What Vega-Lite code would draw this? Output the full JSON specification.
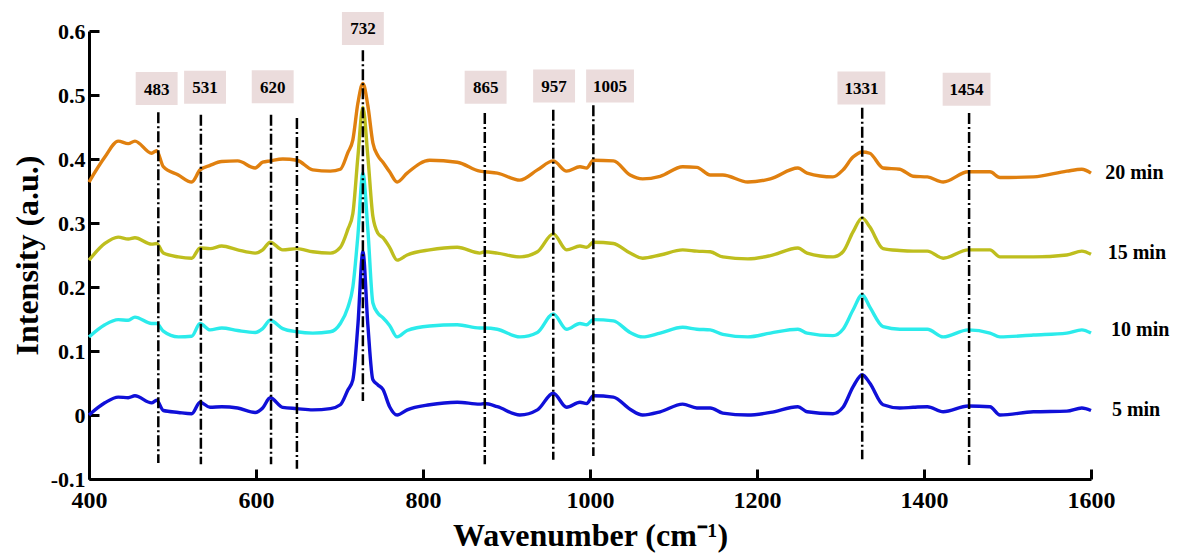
{
  "$schema": "https://vega.github.io/schema/vega-lite/v6.json",
  "autosize": {"type": "none"},
  "padding": {"left": 89, "top": 31, "right": 89, "bottom": 77},
  "width": 1002,
  "height": 448,
  "background": "white",
  "config": {
    "view": {"stroke": null},
    "font": "Liberation Serif",
    "axis": {"labelFont": "Liberation Serif", "titleFont": "Liberation Serif", "labelFontWeight": "bold", "titleFontWeight": "bold", "labelColor": "black", "titleColor": "black", "domainColor": "black", "tickColor": "black", "grid": false}
  },
  "datasets": {
    "spec": [
      {"w": 400, "20 min": 0.364, "15 min": 0.242, "10 min": 0.122, "5 min": 0.0},
      {"w": 419, "20 min": 0.403, "15 min": 0.268, "10 min": 0.141, "5 min": 0.019},
      {"w": 435, "20 min": 0.428, "15 min": 0.278, "10 min": 0.149, "5 min": 0.028},
      {"w": 447, "20 min": 0.424, "15 min": 0.275, "10 min": 0.148, "5 min": 0.027},
      {"w": 455, "20 min": 0.428, "15 min": 0.277, "10 min": 0.153, "5 min": 0.030},
      {"w": 475, "20 min": 0.409, "15 min": 0.267, "10 min": 0.143, "5 min": 0.019},
      {"w": 481, "20 min": 0.413, "15 min": 0.268, "10 min": 0.143, "5 min": 0.023},
      {"w": 489, "20 min": 0.388, "15 min": 0.253, "10 min": 0.131, "5 min": 0.007},
      {"w": 507, "20 min": 0.375, "15 min": 0.247, "10 min": 0.122, "5 min": 0.004},
      {"w": 523, "20 min": 0.364, "15 min": 0.245, "10 min": 0.123, "5 min": 0.002},
      {"w": 533, "20 min": 0.383, "15 min": 0.261, "10 min": 0.143, "5 min": 0.020},
      {"w": 545, "20 min": 0.390, "15 min": 0.260, "10 min": 0.133, "5 min": 0.012},
      {"w": 559, "20 min": 0.396, "15 min": 0.264, "10 min": 0.136, "5 min": 0.013},
      {"w": 578, "20 min": 0.397, "15 min": 0.258, "10 min": 0.132, "5 min": 0.011},
      {"w": 599, "20 min": 0.386, "15 min": 0.253, "10 min": 0.129, "5 min": 0.004},
      {"w": 608, "20 min": 0.395, "15 min": 0.258, "10 min": 0.135, "5 min": 0.011},
      {"w": 617, "20 min": 0.397, "15 min": 0.270, "10 min": 0.148, "5 min": 0.027},
      {"w": 632, "20 min": 0.400, "15 min": 0.258, "10 min": 0.135, "5 min": 0.012},
      {"w": 649, "20 min": 0.398, "15 min": 0.260, "10 min": 0.130, "5 min": 0.010},
      {"w": 668, "20 min": 0.383, "15 min": 0.255, "10 min": 0.128, "5 min": 0.008},
      {"w": 689, "20 min": 0.381, "15 min": 0.253, "10 min": 0.130, "5 min": 0.010},
      {"w": 701, "20 min": 0.384, "15 min": 0.262, "10 min": 0.143, "5 min": 0.016},
      {"w": 710, "20 min": 0.410, "15 min": 0.290, "10 min": 0.168, "5 min": 0.039},
      {"w": 716, "20 min": 0.430, "15 min": 0.315, "10 min": 0.200, "5 min": 0.055},
      {"w": 722, "20 min": 0.487, "15 min": 0.403, "10 min": 0.280, "5 min": 0.140},
      {"w": 728, "20 min": 0.518, "15 min": 0.481, "10 min": 0.378, "5 min": 0.255},
      {"w": 734, "20 min": 0.483, "15 min": 0.403, "10 min": 0.289, "5 min": 0.140},
      {"w": 740, "20 min": 0.425, "15 min": 0.310, "10 min": 0.175, "5 min": 0.055},
      {"w": 746, "20 min": 0.405, "15 min": 0.284, "10 min": 0.159, "5 min": 0.047},
      {"w": 752, "20 min": 0.395, "15 min": 0.277, "10 min": 0.152, "5 min": 0.040},
      {"w": 760, "20 min": 0.380, "15 min": 0.262, "10 min": 0.140, "5 min": 0.013},
      {"w": 769, "20 min": 0.364, "15 min": 0.242, "10 min": 0.122, "5 min": 0.000},
      {"w": 781, "20 min": 0.378, "15 min": 0.250, "10 min": 0.132, "5 min": 0.008},
      {"w": 808, "20 min": 0.398, "15 min": 0.258, "10 min": 0.139, "5 min": 0.016},
      {"w": 841, "20 min": 0.395, "15 min": 0.262, "10 min": 0.141, "5 min": 0.020},
      {"w": 868, "20 min": 0.381, "15 min": 0.253, "10 min": 0.136, "5 min": 0.017},
      {"w": 874, "20 min": 0.380, "15 min": 0.255, "10 min": 0.136, "5 min": 0.018},
      {"w": 889, "20 min": 0.378, "15 min": 0.253, "10 min": 0.134, "5 min": 0.013},
      {"w": 916, "20 min": 0.367, "15 min": 0.247, "10 min": 0.122, "5 min": 0.000},
      {"w": 937, "20 min": 0.383, "15 min": 0.255, "10 min": 0.129, "5 min": 0.008},
      {"w": 956, "20 min": 0.397, "15 min": 0.283, "10 min": 0.158, "5 min": 0.034},
      {"w": 972, "20 min": 0.381, "15 min": 0.258, "10 min": 0.134, "5 min": 0.012},
      {"w": 988, "20 min": 0.388, "15 min": 0.264, "10 min": 0.143, "5 min": 0.020},
      {"w": 996, "20 min": 0.386, "15 min": 0.262, "10 min": 0.141, "5 min": 0.018},
      {"w": 1004, "20 min": 0.398, "15 min": 0.270, "10 min": 0.149, "5 min": 0.030},
      {"w": 1028, "20 min": 0.397, "15 min": 0.268, "10 min": 0.147, "5 min": 0.028},
      {"w": 1048, "20 min": 0.375, "15 min": 0.253, "10 min": 0.129, "5 min": 0.009},
      {"w": 1063, "20 min": 0.369, "15 min": 0.245, "10 min": 0.122, "5 min": 0.000},
      {"w": 1084, "20 min": 0.373, "15 min": 0.250, "10 min": 0.128, "5 min": 0.005},
      {"w": 1111, "20 min": 0.388, "15 min": 0.258, "10 min": 0.137, "5 min": 0.017},
      {"w": 1128, "20 min": 0.387, "15 min": 0.256, "10 min": 0.134, "5 min": 0.011},
      {"w": 1144, "20 min": 0.375, "15 min": 0.255, "10 min": 0.133, "5 min": 0.011},
      {"w": 1159, "20 min": 0.375, "15 min": 0.247, "10 min": 0.126, "5 min": 0.003},
      {"w": 1189, "20 min": 0.364, "15 min": 0.244, "10 min": 0.122, "5 min": 0.000},
      {"w": 1216, "20 min": 0.369, "15 min": 0.249, "10 min": 0.128, "5 min": 0.004},
      {"w": 1249, "20 min": 0.386, "15 min": 0.261, "10 min": 0.134, "5 min": 0.013},
      {"w": 1260, "20 min": 0.378, "15 min": 0.253, "10 min": 0.128, "5 min": 0.005},
      {"w": 1291, "20 min": 0.372, "15 min": 0.247, "10 min": 0.124, "5 min": 0.002},
      {"w": 1303, "20 min": 0.383, "15 min": 0.255, "10 min": 0.134, "5 min": 0.012},
      {"w": 1315, "20 min": 0.403, "15 min": 0.286, "10 min": 0.164, "5 min": 0.044},
      {"w": 1326, "20 min": 0.411, "15 min": 0.308, "10 min": 0.188, "5 min": 0.063},
      {"w": 1335, "20 min": 0.409, "15 min": 0.294, "10 min": 0.169, "5 min": 0.050},
      {"w": 1351, "20 min": 0.386, "15 min": 0.260, "10 min": 0.138, "5 min": 0.016},
      {"w": 1371, "20 min": 0.384, "15 min": 0.257, "10 min": 0.134, "5 min": 0.011},
      {"w": 1387, "20 min": 0.373, "15 min": 0.256, "10 min": 0.134, "5 min": 0.012},
      {"w": 1404, "20 min": 0.372, "15 min": 0.256, "10 min": 0.134, "5 min": 0.013},
      {"w": 1423, "20 min": 0.364, "15 min": 0.245, "10 min": 0.122, "5 min": 0.005},
      {"w": 1453, "20 min": 0.380, "15 min": 0.258, "10 min": 0.133, "5 min": 0.014},
      {"w": 1479, "20 min": 0.380, "15 min": 0.258, "10 min": 0.128, "5 min": 0.013},
      {"w": 1491, "20 min": 0.371, "15 min": 0.247, "10 min": 0.122, "5 min": 0.000},
      {"w": 1531, "20 min": 0.372, "15 min": 0.247, "10 min": 0.125, "5 min": 0.005},
      {"w": 1571, "20 min": 0.381, "15 min": 0.250, "10 min": 0.128, "5 min": 0.006},
      {"w": 1589, "20 min": 0.384, "15 min": 0.256, "10 min": 0.133, "5 min": 0.011},
      {"w": 1600, "20 min": 0.378, "15 min": 0.251, "10 min": 0.128, "5 min": 0.007}
    ],
    "rules": [
      {"p": 483, "t": 0.473, "b": -0.075},
      {"p": 534, "t": 0.469, "b": -0.077},
      {"p": 618, "t": 0.469, "b": -0.077},
      {"p": 649, "t": 0.464, "b": -0.084},
      {"p": 728, "t": 0.570, "b": 0.022},
      {"p": 874, "t": 0.472, "b": -0.077},
      {"p": 956, "t": 0.477, "b": -0.070},
      {"p": 1004, "t": 0.484, "b": -0.064},
      {"p": 1326, "t": 0.480, "b": -0.069},
      {"p": 1454, "t": 0.472, "b": -0.078}
    ],
    "peaks": [
      {"lab": "483", "lx": 481, "ly": 0.510},
      {"lab": "531", "lx": 539, "ly": 0.512},
      {"lab": "620", "lx": 620, "ly": 0.513},
      {"lab": "732", "lx": 728, "ly": 0.604},
      {"lab": "865", "lx": 875, "ly": 0.512},
      {"lab": "957", "lx": 957, "ly": 0.514},
      {"lab": "1005", "lx": 1024, "ly": 0.514},
      {"lab": "1331", "lx": 1325, "ly": 0.511},
      {"lab": "1454", "lx": 1451, "ly": 0.509}
    ],
    "series": [
      {"lab": "20 min", "lx": 1617, "ly": 0.378},
      {"lab": "15 min", "lx": 1620, "ly": 0.253},
      {"lab": "10 min", "lx": 1624, "ly": 0.133},
      {"lab": "5 min", "lx": 1625, "ly": 0.008}
    ]
  },
  "layer": [
    {
      "data": {"name": "spec"},
      "transform": [{"fold": ["20 min", "15 min", "10 min", "5 min"], "as": ["series", "v"]}],
      "mark": {"type": "line", "strokeWidth": 3.4, "interpolate": "monotone", "clip": false},
      "encoding": {
        "x": {"field": "w", "type": "quantitative", "scale": {"domain": [400, 1600], "nice": false, "zero": false},
          "axis": {"values": [400, 600, 800, 1000, 1200, 1400, 1600], "format": "d", "title": "Wavenumber (cm⁻¹)", "labelFontSize": 24, "titleFontSize": 32, "domainWidth": 3, "tickWidth": 3, "tickSize": -10, "labelPadding": 19, "titlePadding": 8, "labelFlush": false}},
        "y": {"field": "v", "type": "quantitative", "scale": {"domain": [-0.1, 0.6], "nice": false, "zero": false},
          "axis": {"values": [-0.1, 0, 0.1, 0.2, 0.3, 0.4, 0.5, 0.6], "format": ".1~f", "labelExpr": "replace(datum.label, '−', '-')", "title": "Intensity (a.u.)", "labelFontSize": 22, "titleFontSize": 32, "domainWidth": 3, "tickWidth": 3, "tickSize": -10, "labelPadding": 14, "titlePadding": 6, "labelFlush": false}},
        "color": {"field": "series", "type": "nominal", "scale": {"domain": ["20 min", "15 min", "10 min", "5 min"], "range": ["#E0800F", "#BEBE1E", "#2BEBEB", "#1010D8"]}, "legend": null}
      }
    },
    {
      "data": {"name": "rules"},
      "mark": {"type": "rule", "strokeWidth": 2.5, "color": "black", "strokeDash": [11, 3, 2, 3], "clip": false},
      "encoding": {
        "x": {"field": "p", "type": "quantitative", "scale": {"domain": [400, 1600]}},
        "y": {"field": "t", "type": "quantitative", "scale": {"domain": [-0.1, 0.6]}},
        "y2": {"field": "b"}
      }
    },
    {
      "data": {"name": "peaks"},
      "transform": [{"filter": "length(datum.lab) == 3"}],
      "mark": {"type": "point", "shape": "M-1.27,-1H1.27V1H-1.27Z", "filled": true, "color": "#EBDCDC", "opacity": 1, "size": 1089, "clip": false},
      "encoding": {
        "x": {"field": "lx", "type": "quantitative", "scale": {"domain": [400, 1600]}},
        "y": {"field": "ly", "type": "quantitative", "scale": {"domain": [-0.1, 0.6]}}
      }
    },
    {
      "data": {"name": "peaks"},
      "transform": [{"filter": "length(datum.lab) == 4"}],
      "mark": {"type": "point", "shape": "M-1.45,-1H1.45V1H-1.45Z", "filled": true, "color": "#EBDCDC", "opacity": 1, "size": 1089, "clip": false},
      "encoding": {
        "x": {"field": "lx", "type": "quantitative", "scale": {"domain": [400, 1600]}},
        "y": {"field": "ly", "type": "quantitative", "scale": {"domain": [-0.1, 0.6]}}
      }
    },
    {
      "data": {"name": "peaks"},
      "mark": {"type": "text", "font": "Liberation Serif", "fontWeight": "bold", "fontSize": 17, "color": "black", "align": "center", "baseline": "middle", "dy": 1, "clip": false},
      "encoding": {
        "x": {"field": "lx", "type": "quantitative", "scale": {"domain": [400, 1600]}},
        "y": {"field": "ly", "type": "quantitative", "scale": {"domain": [-0.1, 0.6]}},
        "text": {"field": "lab"}
      }
    },
    {
      "data": {"name": "series"},
      "mark": {"type": "text", "font": "Liberation Serif", "fontWeight": "bold", "fontSize": 20, "color": "black", "align": "left", "baseline": "middle", "clip": false},
      "encoding": {
        "x": {"field": "lx", "type": "quantitative", "scale": {"domain": [400, 1600]}},
        "y": {"field": "ly", "type": "quantitative", "scale": {"domain": [-0.1, 0.6]}},
        "text": {"field": "lab"}
      }
    }
  ]
}
